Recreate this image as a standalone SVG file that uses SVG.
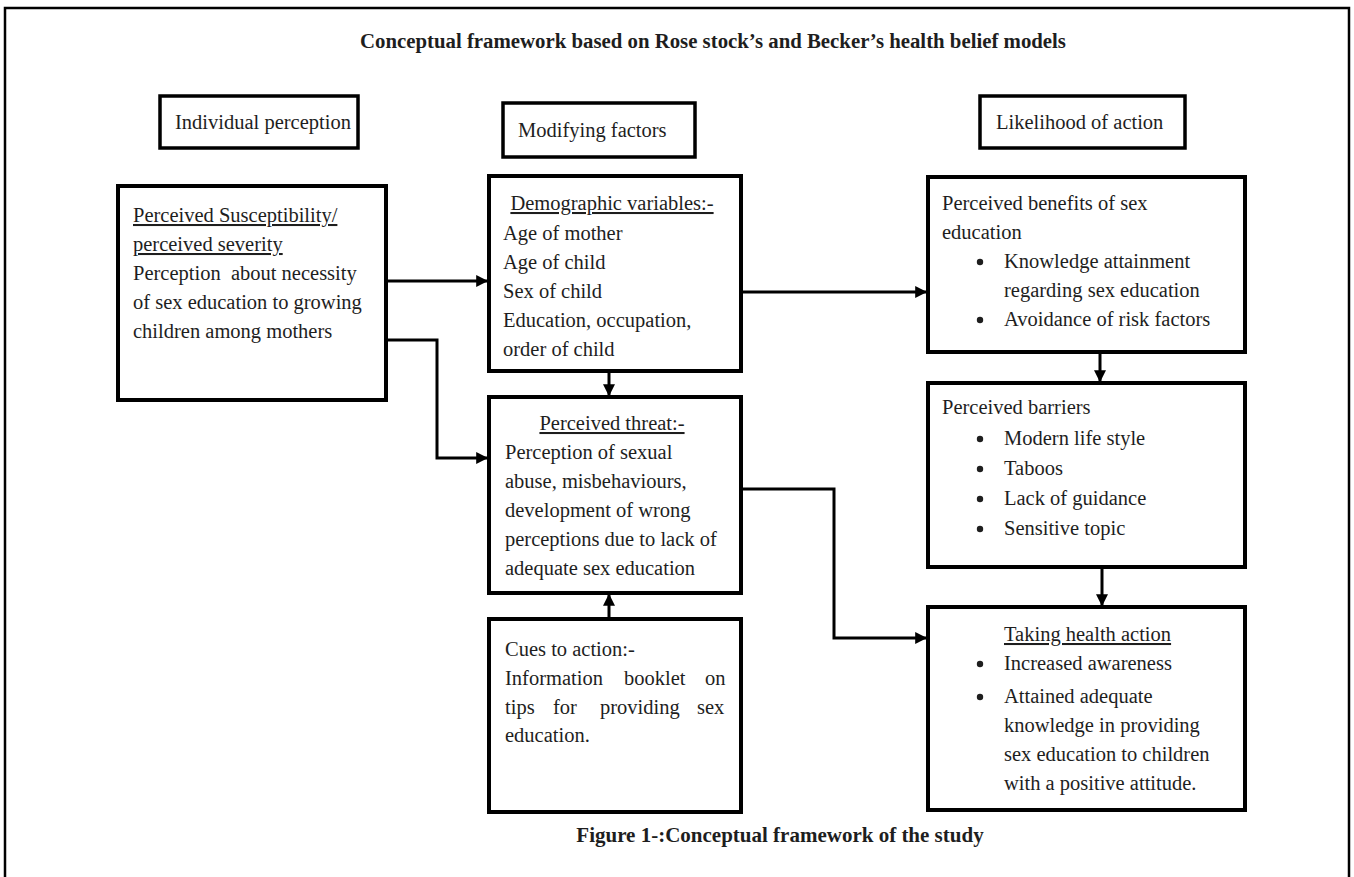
<svg xmlns="http://www.w3.org/2000/svg" width="1354" height="877" viewBox="0 0 1354 877">
<style>
.t{font-family:"Liberation Serif","Times New Roman",serif;font-size:20.5px;fill:#1e1e1e}
.b{font-weight:bold;font-size:20.8px}
.box{fill:#fff;stroke:#000;stroke-width:4}
.hbox{fill:#fff;stroke:#000;stroke-width:3.5}
.u{text-decoration:underline}
.c{fill:none;stroke:#000;stroke-width:3}
</style>
<defs>
<marker id="ah" viewBox="0 0 10 10" refX="9" refY="5" markerWidth="4" markerHeight="4" orient="auto" markerUnits="strokeWidth">
<path d="M0,0 L10,5 L0,10 z" fill="#000"/>
</marker>
</defs>
<rect x="5" y="8" width="1344" height="880" fill="#fff" stroke="#000" stroke-width="2.5"/>
<text class="t b" x="713" y="48" text-anchor="middle">Conceptual framework based on Rose stock’s and Becker’s health belief models</text>

<g id="h-individual"><rect class="hbox" x="160" y="96" width="198" height="52"/><text class="t" x="175" y="129">Individual perception</text></g>
<g id="h-modifying"><rect class="hbox" x="503" y="103" width="192" height="54"/><text class="t" x="518" y="137">Modifying factors</text></g>
<g id="h-likelihood"><rect class="hbox" x="980" y="96" width="205" height="52"/><text class="t" x="996" y="129">Likelihood of action</text></g>

<g id="connectors">
<line class="c" x1="386" y1="281" x2="487" y2="281" marker-end="url(#ah)"/>
<polyline class="c" points="386,340 437,340 437,458 487,458" marker-end="url(#ah)"/>
<line class="c" x1="741" y1="292" x2="926" y2="292" marker-end="url(#ah)"/>
<line class="c" x1="609" y1="371" x2="609" y2="395" marker-end="url(#ah)"/>
<line class="c" x1="609" y1="619" x2="609" y2="595" marker-end="url(#ah)"/>
<polyline class="c" points="741,489 834,489 834,638 926,638" marker-end="url(#ah)"/>
<line class="c" x1="1100" y1="352" x2="1100" y2="381" marker-end="url(#ah)"/>
<line class="c" x1="1102" y1="567" x2="1102" y2="605" marker-end="url(#ah)"/>
</g>

<g id="n-susceptibility">
<rect class="box" x="118" y="186" width="268" height="214"/>
<text class="t"><tspan class="u" x="133" y="222">Perceived Susceptibility/</tspan><tspan class="u" x="133" y="251">perceived severity</tspan><tspan x="133" y="280" xml:space="preserve">Perception  about necessity</tspan><tspan x="133" y="309">of sex education to growing</tspan><tspan x="133" y="338">children among mothers</tspan></text>
</g>

<g id="n-demographic">
<rect class="box" x="489" y="176" width="252" height="195"/>
<text class="t u" x="612" y="210" text-anchor="middle">Demographic variables:-</text>
<text class="t"><tspan x="503" y="240">Age of mother</tspan><tspan x="503" y="269">Age of child</tspan><tspan x="503" y="298">Sex of child</tspan><tspan x="503" y="327">Education, occupation,</tspan><tspan x="503" y="356">order of child</tspan></text>
</g>

<g id="n-threat">
<rect class="box" x="489" y="397" width="252" height="196"/>
<text class="t u" x="612" y="430" text-anchor="middle">Perceived threat:-</text>
<text class="t"><tspan x="505" y="459">Perception of sexual</tspan><tspan x="505" y="488">abuse, misbehaviours,</tspan><tspan x="505" y="517">development of wrong</tspan><tspan x="505" y="546">perceptions due to lack of</tspan><tspan x="505" y="575">adequate sex education</tspan></text>
</g>

<g id="n-cues">
<rect class="box" x="489" y="619" width="252" height="193"/>
<text class="t" x="505" y="656">Cues to action:-</text>
<text class="t" y="685"><tspan x="505">Information</tspan><tspan x="624">booklet</tspan><tspan x="705">on</tspan></text>
<text class="t" y="714"><tspan x="505">tips</tspan><tspan x="553">for</tspan><tspan x="600">providing</tspan><tspan x="697">sex</tspan></text>
<text class="t" x="505" y="742">education.</text>
</g>

<g id="n-benefits">
<rect class="box" x="928" y="177" width="317" height="175"/>
<text class="t"><tspan x="942" y="210">Perceived benefits of sex</tspan><tspan x="942" y="239">education</tspan><tspan x="1004" y="268">Knowledge attainment</tspan><tspan x="1004" y="297">regarding sex education</tspan><tspan x="1004" y="326">Avoidance of risk factors</tspan></text>
<circle cx="980" cy="262" r="3.2" fill="#1e1e1e"/><circle cx="980" cy="320" r="3.2" fill="#1e1e1e"/>
</g>

<g id="n-barriers">
<rect class="box" x="928" y="383" width="317" height="184"/>
<text class="t"><tspan x="942" y="414">Perceived barriers</tspan><tspan x="1004" y="445">Modern life style</tspan><tspan x="1004" y="475">Taboos</tspan><tspan x="1004" y="505">Lack of guidance</tspan><tspan x="1004" y="535">Sensitive topic</tspan></text>
<circle cx="980" cy="439" r="3.2" fill="#1e1e1e"/><circle cx="980" cy="469" r="3.2" fill="#1e1e1e"/><circle cx="980" cy="499" r="3.2" fill="#1e1e1e"/><circle cx="980" cy="529" r="3.2" fill="#1e1e1e"/>
</g>

<g id="n-action">
<rect class="box" x="928" y="607" width="317" height="203"/>
<text class="t u" x="1004" y="641">Taking health action</text>
<text class="t"><tspan x="1004" y="670">Increased awareness</tspan><tspan x="1004" y="703">Attained adequate</tspan><tspan x="1004" y="732">knowledge in providing</tspan><tspan x="1004" y="761">sex education to children</tspan><tspan x="1004" y="790">with a positive attitude.</tspan></text>
<circle cx="980" cy="664" r="3.2" fill="#1e1e1e"/><circle cx="980" cy="697" r="3.2" fill="#1e1e1e"/>
</g>

<text class="t b" x="780" y="842" text-anchor="middle" style="font-size:21px">Figure 1-:Conceptual framework of the study</text>
</svg>
